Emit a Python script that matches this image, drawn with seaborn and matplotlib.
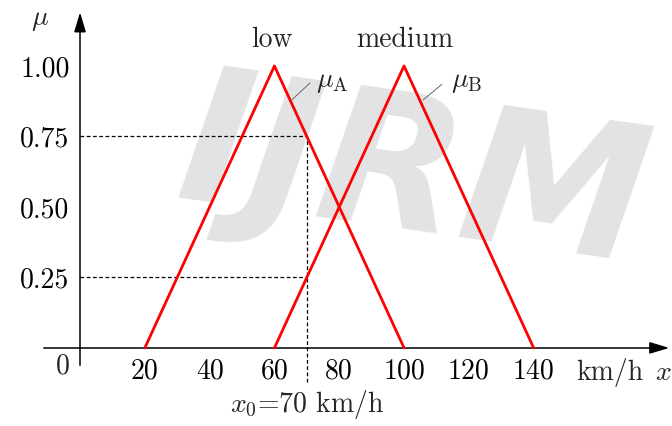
import matplotlib
matplotlib.use("Agg")
import matplotlib.pyplot as plt
import seaborn as sns
import pandas as pd

# membership functions (triangles)
low_x = [20, 60, 100]
low_mu = [0, 1, 0]
medium_x = [60, 100, 140]
medium_mu = [0, 1, 0]

x_ticks = [20, 40, 60, 80, 100, 120, 140]
mu_ticks = [0.25, 0.50, 0.75, 1.00]
mu_labels = ["0.25", "0.50", "0.75", "1.00"]

x0 = 70
mu_at_x0 = [0.75, 0.25]

df = pd.concat([
    pd.DataFrame({"x": low_x, "mu": low_mu, "set": "low"}),
    pd.DataFrame({"x": medium_x, "mu": medium_mu, "set": "medium"}),
])

sns.set_theme(style="white")
plt.rcParams["mathtext.fontset"] = "cm"
plt.rcParams["font.family"] = ["cmr10", "DejaVu Serif"]
plt.rcParams["axes.formatter.use_mathtext"] = True

FS = 20

fig = plt.figure(figsize=(6.72, 4.26), dpi=100)
ax = fig.add_axes([0, 0, 1, 1])
ax.set_xlim(-24.7, 182.7)
ax.set_ylim(-0.277, 1.234)

# faint watermark in the background
ax.text(103, 0.6, "IJRM", fontsize=135, color="#e3e3e3", fontstyle="italic",
        fontweight="bold", family="DejaVu Sans", ha="center", va="center",
        rotation=-8, zorder=0)

sns.lineplot(data=df, x="x", y="mu", hue="set", palette=["red", "red"],
             lw=2, legend=False, ax=ax, zorder=3, sort=False)

# axes through origin
for s in ["top", "right"]:
    ax.spines[s].set_visible(False)
ax.spines["left"].set_position(("data", 0))
ax.spines["bottom"].set_position(("data", 0))
ax.spines["left"].set_bounds(-0.06, 1.17)
ax.spines["bottom"].set_bounds(-11, 178)
for s in ["left", "bottom"]:
    ax.spines[s].set_color("black")
    ax.spines[s].set_linewidth(1.1)
ax.annotate("", xy=(182.7, 0), xytext=(176, 0),
            arrowprops=dict(arrowstyle="-|>,head_length=1.0,head_width=0.3",
                            color="black", lw=1.1))
ax.annotate("", xy=(0, 1.2), xytext=(0, 1.15),
            arrowprops=dict(arrowstyle="-|>,head_length=1.0,head_width=0.3",
                            color="black", lw=1.1))

ax.set_xticks(x_ticks)
ax.set_yticks(mu_ticks)
ax.set_xticklabels([str(t) for t in x_ticks])
ax.set_yticklabels(mu_labels)
ax.tick_params(axis="both", direction="inout", length=7, width=1,
               colors="black", labelsize=FS)
ax.tick_params(axis="x", pad=4)
ax.tick_params(axis="y", pad=4)
ax.set_xlabel("")
ax.set_ylabel("")

# dashed guides at x0
for m in mu_at_x0:
    ax.plot([0, x0], [m, m], ls=(0, (3, 2)), color="black", lw=0.9, zorder=2)
ax.plot([x0, x0], [-0.12, max(mu_at_x0)], ls=(0, (3, 2)), color="black",
        lw=0.9, zorder=2)

# labels
ax.text(-5.2, -0.065, "0", fontsize=FS, ha="center", va="center")
ax.text(-12.3, 1.165, r"$\mu$", fontsize=FS, ha="center", va="center")
ax.text(153, -0.088, "km/h", fontsize=FS, ha="left", va="center")
ax.text(177.3, -0.088, r"$x$", fontsize=FS, ha="left", va="center")
ax.text(x0, -0.2, r"$x_0$=70 km/h", fontsize=FS, ha="center", va="center")
ax.text(59.3, 1.092, "low", fontsize=FS, ha="center", va="center")
ax.text(100.3, 1.092, "medium", fontsize=FS, ha="center", va="center")

ax.plot([65.4, 71], [0.88, 0.94], color="#555555", lw=0.6)
ax.text(72.8, 0.945, r"$\mu_{\rm A}$", fontsize=FS, ha="left", va="center")
ax.plot([105.9, 111.7], [0.88, 0.935], color="#555555", lw=0.6)
ax.text(114.5, 0.945, r"$\mu_{\rm B}$", fontsize=FS, ha="left", va="center")

fig.savefig("out.png", dpi=100)
